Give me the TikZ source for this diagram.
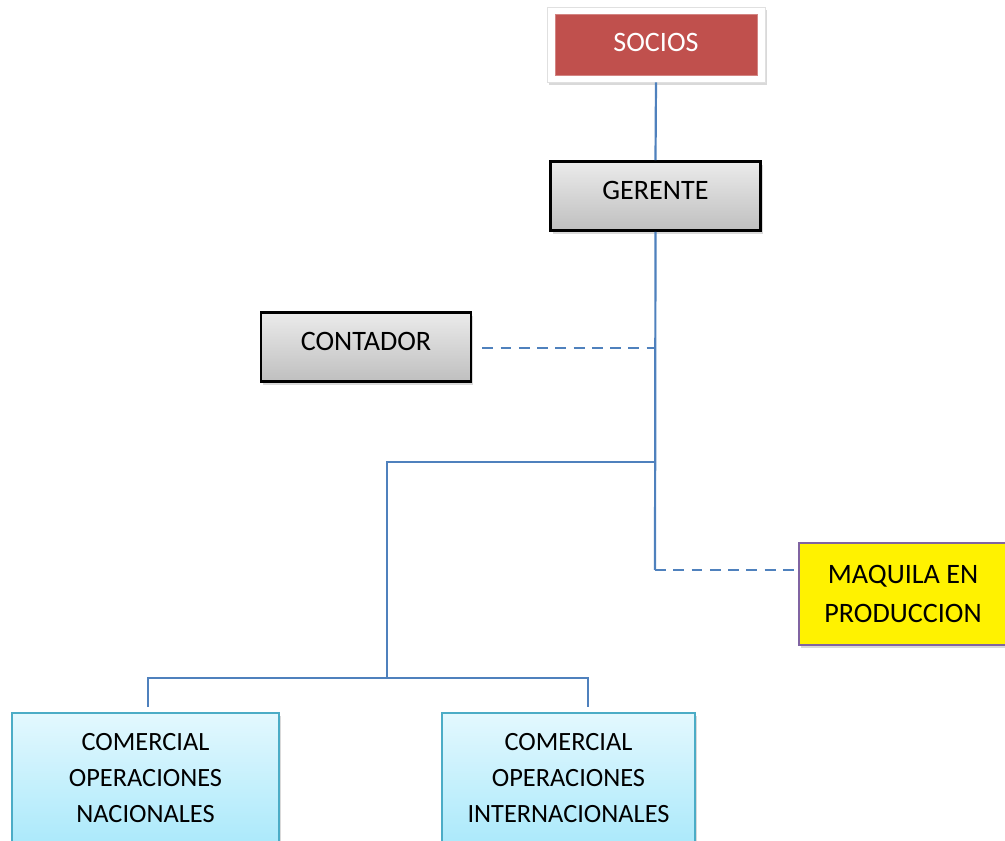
\documentclass[tikz,border=0pt]{standalone}
\usepackage{fontspec}
\setmainfont{Carlito}
\usetikzlibrary{shadows,positioning}
\definecolor{lineblue}{HTML}{4F81BD}
\definecolor{sociored}{HTML}{C0504D}
\definecolor{graytop}{HTML}{EBEBEB}
\definecolor{graybot}{HTML}{BFBFBF}
\definecolor{cyantop}{HTML}{E3F8FE}
\definecolor{cyanbot}{HTML}{9FE6FA}
\definecolor{cyanline}{HTML}{4BACC6}
\definecolor{maqpurple}{HTML}{8064A2}

\begin{document}
\begin{tikzpicture}[x=0.02cm,y=-0.02cm,
  link/.style={draw=lineblue,line width=1.25pt},
  dashlink/.style={link,dash pattern=on 6.2pt off 4.2pt},
  softshadow/.style={drop shadow={shadow xshift=1.2pt,shadow yshift=-1.8pt,opacity=0.3}},
  graybox/.style={draw=black,line width=1.5pt,top color=graytop,bottom color=graybot,
    minimum width=4.2cm,minimum height=1.38cm,text depth=0.22cm,
    font=\fontsize{16}{19}\selectfont,softshadow},
  cyanbox/.style={draw=cyanline,line width=1.2pt,top color=cyantop,bottom color=cyanbot,
    anchor=north,align=center,inner ysep=0.4cm,text depth=0.6cm,
    font=\fontsize{15}{20.6}\selectfont,softshadow}]
\useasboundingbox (0,0) rectangle (1005,841);

\node[fill=white,draw=black!12,minimum width=4.36cm,minimum height=1.5cm,softshadow] (sociosframe) at (656,44.5) {};
\node[fill=sociored,draw=sociored!70!white,line width=0.5pt,text=white,minimum width=4.04cm,minimum height=1.22cm,
  text depth=0.1cm,font=\fontsize{16}{19}\selectfont] (socios) at (sociosframe) {SOCIOS};
\node[graybox] (gerente) at (655.5,196) {GERENTE};
\node[graybox] (contador) at (366,347) {CONTADOR};
\node[draw=maqpurple,line width=1.2pt,fill=yellow,align=center,minimum width=4.16cm,minimum height=2.04cm,
  font=\fontsize{16}{22.2}\selectfont,softshadow] (maquila) at (903,594) {MAQUILA EN\\PRODUCCION};
\node[cyanbox,minimum width=5.34cm] (nacional) at (145.5,712) {COMERCIAL\\OPERACIONES\\NACIONALES};
\node[cyanbox,minimum width=5.06cm] (internacional) at (568.5,712) {COMERCIAL\\OPERACIONES\\INTERNACIONALES};

\coordinate (contjoint) at (655,348);
\coordinate (comjoint) at (655,462);
\coordinate (maqjoint) at (655,570);
\coordinate (combase) at (387,678);
\coordinate (nacjoint) at (148,678);
\coordinate (intjoint) at (588,678);

\draw[link] (sociosframe.south) -- (gerente.north);
\draw[link] (gerente.south) -- (maqjoint);
\draw[dashlink] ([xshift=0.2cm]contador.east |- contjoint) -- (contjoint);
\draw[dashlink] (maqjoint) -- (maqjoint -| maquila.west);
\draw[link] (comjoint) -| (combase);
\draw[link] ([yshift=0.1cm]nacjoint |- nacional.north) -- (nacjoint) -- (intjoint) -- ([yshift=0.1cm]intjoint |- internacional.north);
\end{tikzpicture}
\end{document}
